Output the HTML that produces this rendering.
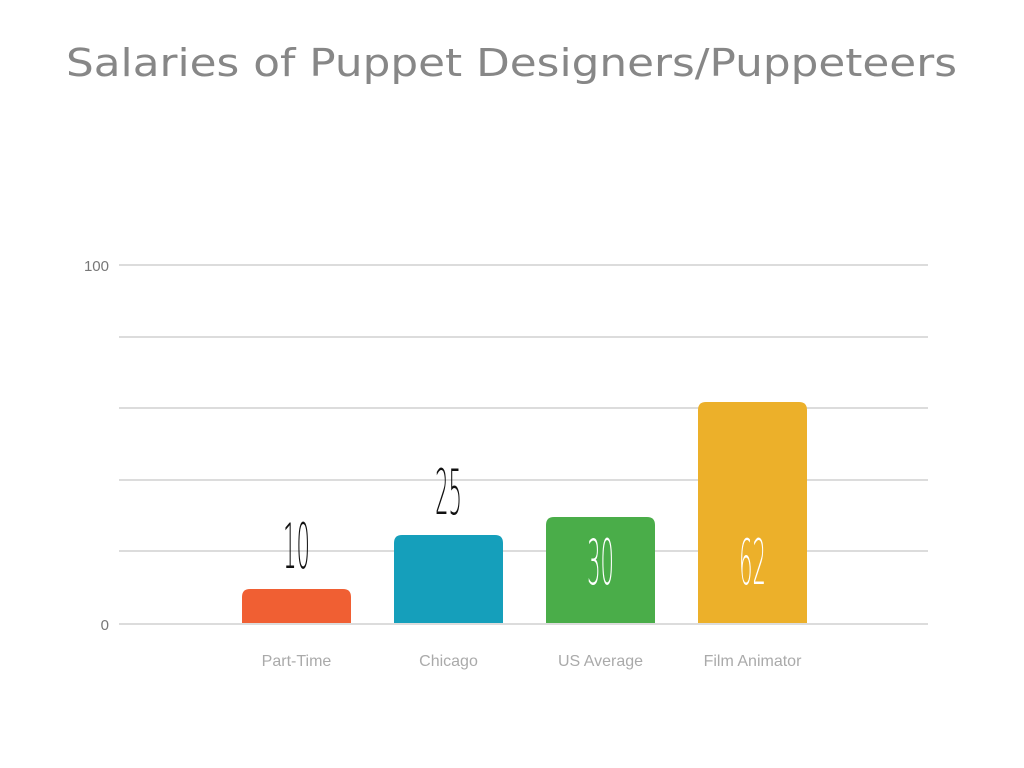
<!DOCTYPE html>
<html><head><meta charset="utf-8"><style>
html,body{margin:0;padding:0;background:#fff;}
svg{display:block}
</style></head><body>
<svg width="1024" height="768" xmlns="http://www.w3.org/2000/svg">
<rect width="1024" height="768" fill="#fff"/>
<text x="66" y="76" font-family="DejaVu Sans, Liberation Sans, sans-serif" font-size="38" fill="#878787" textLength="891" lengthAdjust="spacingAndGlyphs">Salaries of Puppet Designers/Puppeteers</text>
<g stroke="#dcdcdc" stroke-width="2">
<line x1="119" y1="265" x2="928" y2="265"/>
<line x1="119" y1="337" x2="928" y2="337"/>
<line x1="119" y1="408" x2="928" y2="408"/>
<line x1="119" y1="480" x2="928" y2="480"/>
<line x1="119" y1="551" x2="928" y2="551"/>
</g>
<g font-family="Liberation Sans, sans-serif" font-size="15" fill="#777" text-anchor="end">
<text x="109" y="271">100</text>
<text x="109" y="630">0</text>
</g>
<path d="M242 625 V597 Q242 589 250 589 H343 Q351 589 351 597 V625 Z" fill="#f05f33"/>
<path d="M394 625 V543 Q394 535 402 535 H495 Q503 535 503 543 V625 Z" fill="#159fbb"/>
<path d="M546 625 V525 Q546 517 554 517 H647 Q655 517 655 525 V625 Z" fill="#4aad49"/>
<path d="M698 625 V410 Q698 402 706 402 H799 Q807 402 807 410 V625 Z" fill="#ecb02a"/>
<line x1="119" y1="624" x2="928" y2="624" stroke="#dcdcdc" stroke-width="2"/>
<g font-family="DejaVu Sans, sans-serif" font-weight="200" font-size="62" text-anchor="middle">
<text transform="translate(296.5,568) scale(0.34,1)" fill="#111">10</text>
<text transform="translate(448.5,514) scale(0.34,1)" fill="#111">25</text>
<text transform="translate(600.5,584) scale(0.34,1)" fill="#fff">30</text>
<text transform="translate(752.5,584) scale(0.34,1)" fill="#fff">62</text>
</g>
<g font-family="Liberation Sans, sans-serif" font-size="16" fill="#aaa" text-anchor="middle">
<text x="296.5" y="666">Part-Time</text>
<text x="448.5" y="666">Chicago</text>
<text x="600.5" y="666">US Average</text>
<text x="752.5" y="666">Film Animator</text>
</g>
</svg>
</body></html>
